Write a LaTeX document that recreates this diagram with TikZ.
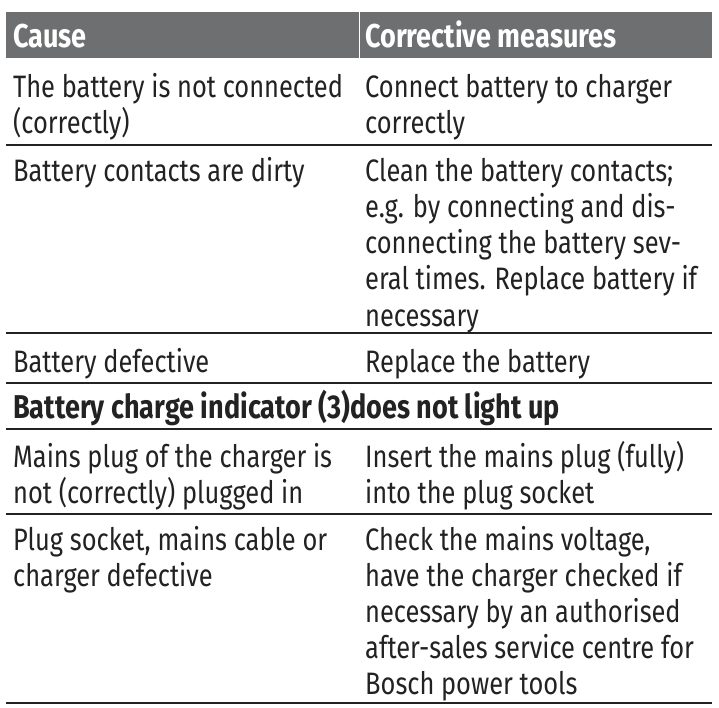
\documentclass[tikz,border=0pt]{standalone}
\usepackage{fontspec}
\setmainfont{Fira Sans}[FakeStretch=0.82]
\definecolor{hdr}{HTML}{6E6F71}
\definecolor{txt}{HTML}{222222}
\begin{document}
\begin{tikzpicture}[x=1pt,y=-1pt,
  t/.style={anchor=base west,inner sep=0pt,font=\fontsize{31}{36}\selectfont,text=txt},
  h/.style={t,font=\fontsize{33}{36}\selectfont\bfseries,text=white},
  b/.style={t,font=\fontsize{33}{36}\selectfont\bfseries},
  sep/.style={draw=txt,line width=2pt}]
\useasboundingbox (0,0) rectangle (719,708);
\fill[hdr] (6,12) rectangle (712,58);
\draw[white,line width=0.6pt] (359,12) -- (359,58);
\node[h] (h1) at (13,48) {Cause};
\node[h] (h2) at (365,48) {Corrective measures};
\node[t] (a1) at (13,98) {The battery is not connected};
\node[t] (a2) at (13,134) {(correctly)};
\node[t] (b1) at (365,98) {Connect battery to charger};
\node[t] (b2) at (365,134) {correctly};
\draw[sep] (6,145) -- (712,145);
\node[t] (c1) at (13,182) {Battery contacts are dirty};
\node[t] (d1) at (365,182) {Clean the battery contacts;};
\node[t] (d2) at (365,218) {e.g. by connecting and dis-};
\node[t] (d3) at (365,254) {connecting the battery sev-};
\node[t] (d4) at (365,290) {eral times. Replace battery if};
\node[t] (d5) at (365,326) {necessary};
\draw[sep] (6,333) -- (712,333);
\node[t] (e1) at (13,372) {Battery defective};
\node[t] (f1) at (365,372) {Replace the battery};
\draw[sep] (6,383) -- (712,383);
\node[b] (g1) at (13,418) {Battery charge indicator (3)does not light up};
\draw[sep] (6,429) -- (712,429);
\node[t] (i1) at (13,467) {Mains plug of the charger is};
\node[t] (i2) at (13,503) {not (correctly) plugged in};
\node[t] (j1) at (365,467) {Insert the mains plug (fully)};
\node[t] (j2) at (365,503) {into the plug socket};
\draw[sep] (6,514) -- (712,514);
\node[t] (k1) at (13,550) {Plug socket, mains cable or};
\node[t] (k2) at (13,586) {charger defective};
\node[t] (l1) at (365,550) {Check the mains voltage,};
\node[t] (l2) at (365,586) {have the charger checked if};
\node[t] (l3) at (365,622) {necessary by an authorised};
\node[t] (l4) at (365,658) {after-sales service centre for};
\node[t] (l5) at (365,694) {Bosch power tools};
\draw[sep] (6,703) -- (712,703);
\end{tikzpicture}
\end{document}
